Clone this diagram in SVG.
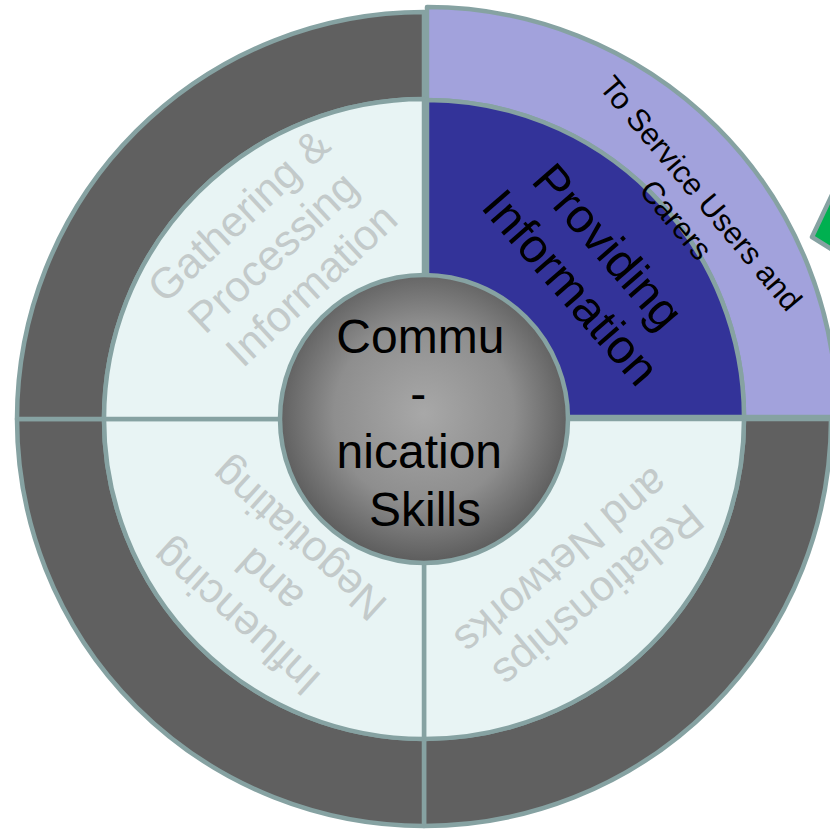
<svg xmlns="http://www.w3.org/2000/svg" width="830" height="831" viewBox="0 0 830 831">
  <defs>
    <radialGradient id="hubShade" cx="50%" cy="48%" r="52%">
      <stop offset="0" stop-color="#a8a8a8"/>
      <stop offset="0.6" stop-color="#8e8e8e"/>
      <stop offset="1" stop-color="#5c5c5c"/>
    </radialGradient>
  </defs>
  <style>
    .edge { stroke: #86a2a2; stroke-width: 4.5; stroke-linejoin: round; }
    .ring { fill: #606060; }
    .ringHi { fill: #a2a2dc; }
    .seg { fill: #e8f4f4; }
    .segHi { fill: #333399; }
    .lbl { font-family: "Liberation Sans", Arial, sans-serif; text-anchor: middle; }
    .faded { fill: #c3caca; font-size: 43px; }
    .dark { fill: #000000; }
  </style>

  <rect width="830" height="831" fill="#ffffff"/>

  <!-- pointer arrow at the right edge -->
  <g id="pointer">
    <polygon class="edge" points="812,237 840,178 852,262" fill="#00b050"/>
  </g>

  <!-- bottom-right quadrant -->
  <g id="q-relationships">
    <path class="ring edge" d="M831,419 A407,407 0 0 1 424,826 L424,739 A320,320 0 0 0 744,419 Z"/>
    <path class="seg edge" d="M424,419 L744,419 A320,320 0 0 1 424,739 Z"/>
    <text class="lbl faded" transform="translate(578,581) rotate(140)">
      <tspan x="0" y="-10">Relationships</tspan>
      <tspan x="0" y="40">and Networks</tspan>
    </text>
  </g>

  <!-- bottom-left quadrant -->
  <g id="q-influencing">
    <path class="ring edge" d="M424,826 A407,407 0 0 1 17,419 L104,419 A320,320 0 0 0 424,739 Z"/>
    <path class="seg edge" d="M424,419 L424,739 A320,320 0 0 1 104,419 Z"/>
    <text class="lbl faded" transform="translate(265,577) rotate(222)">
      <tspan x="0" y="-35">Influencing</tspan>
      <tspan x="0" y="15">and</tspan>
      <tspan x="0" y="65">Negotiating</tspan>
    </text>
  </g>

  <!-- top-left quadrant -->
  <g id="q-gathering">
    <path class="ring edge" d="M17,419 A407,407 0 0 1 424,12 L424,99 A320,320 0 0 0 104,419 Z"/>
    <path class="seg edge" d="M424,419 L104,419 A320,320 0 0 1 424,99 Z"/>
    <text class="lbl faded" transform="translate(277,248) rotate(-43)">
      <tspan x="0" y="-35">Gathering &amp;</tspan>
      <tspan x="0" y="15">Processing</tspan>
      <tspan x="0" y="65">Information</tspan>
    </text>
  </g>

  <!-- top-right quadrant (highlighted, pulled out slightly) -->
  <g id="q-providing">
    <path class="ringHi edge" d="M427,7 A410,410 0 0 1 837,417 L744,417 A317,317 0 0 0 427,100 Z"/>
    <path class="segHi edge" d="M427,417 L427,100 A317,317 0 0 1 744,417 Z"/>
    <text class="lbl dark" font-size="48" transform="translate(591,270) rotate(49)">
      <tspan x="0" y="-12">Providing</tspan>
      <tspan x="0" y="43">Information</tspan>
    </text>
    <text class="lbl dark" font-size="31" transform="translate(690,208) rotate(50)">
      <tspan x="0" y="-7">To Service Users and</tspan>
      <tspan x="0" y="29">Carers</tspan>
    </text>
  </g>

  <!-- hub -->
  <g id="hub">
    <circle class="edge" cx="424" cy="419" r="144" fill="url(#hubShade)"/>
    <text class="lbl dark" font-size="48">
      <tspan x="427" y="353">Commu</tspan>
      <tspan x="425" y="410">-</tspan>
      <tspan x="426" y="468">nication</tspan>
      <tspan x="425" y="526">Skills</tspan>
    </text>
  </g>

  <!-- no connectors in this figure -->
  <g id="connectors"/>
</svg>
